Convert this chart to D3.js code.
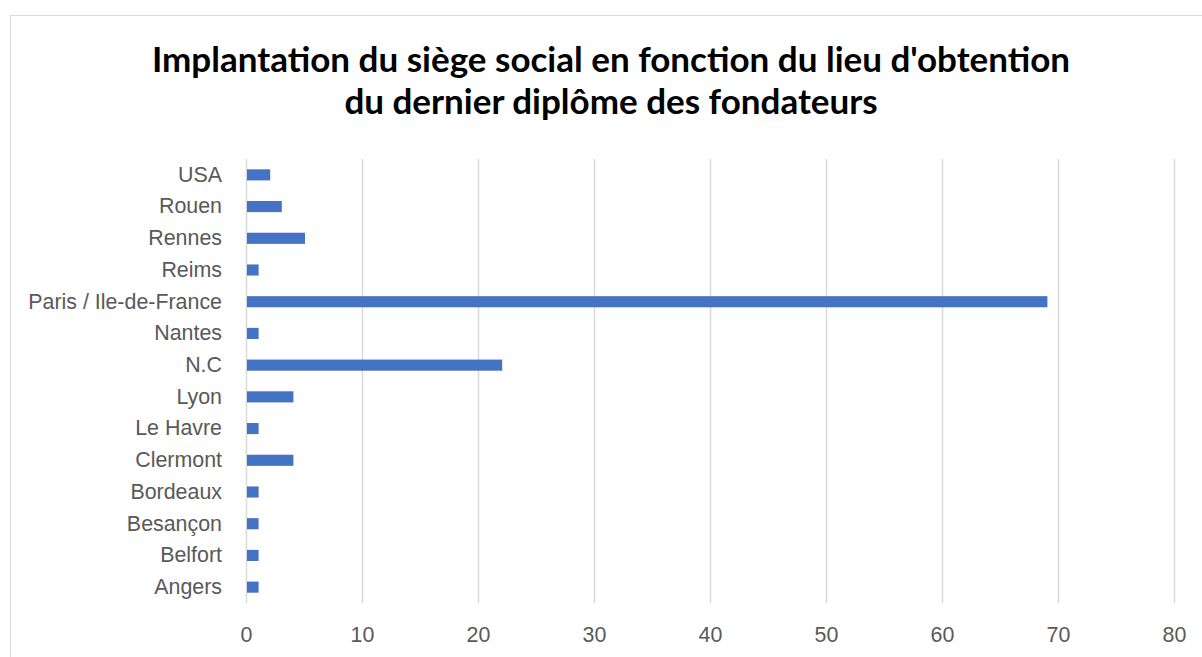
<!DOCTYPE html>
<meta charset="utf-8">
<html>
<head>
<style>
  body { margin: 0; background: #fff; }
  svg { display: block; font-family: Lato, "Open Sans", sans-serif; }
  .tick text { fill: #595959; font-size: 21.4px; }
</style>
</head>
<body>
<script src="https://cdn.jsdelivr.net/npm/d3@7"></script>
<script>
// categories, bottom to top as in the chart
var categories = ["Angers", "Belfort", "Besançon", "Bordeaux", "Clermont", "Le Havre", "Lyon",
                  "N.C", "Nantes", "Paris / Ile-de-France", "Reims", "Rennes", "Rouen", "USA"];
var values = [1, 1, 1, 1, 4, 1, 4, 22, 1, 69, 1, 5, 3, 2];
var xTicks = [0, 10, 20, 30, 40, 50, 60, 70, 80];
var titleLines = ["Implantation du siège social en fonction du lieu d'obtention",
                  "du dernier diplôme des fondateurs"];

var W = 1202, H = 657;
var margin = {top: 159, left: 246, right: 28, bottom: 54};
var width = W - margin.left - margin.right,
    height = H - margin.top - margin.bottom;

var svg = d3.select("body").append("svg")
    .attr("width", W)
    .attr("height", H);

// chart area border
svg.append("rect")
    .attr("x", 10.5).attr("y", 15.5)
    .attr("width", W + 10).attr("height", H + 10)
    .attr("fill", "none")
    .attr("stroke", "#d9d9d9");

svg.append("text")
    .attr("x", 611)
    .attr("text-anchor", "middle")
    .style("font-size", "35px")
    .style("font-weight", "bold")
    .style("fill", "#000")
    .selectAll("tspan")
    .data(titleLines)
    .enter().append("tspan")
    .attr("x", 611)
    .attr("y", function(d, i) { return 72 + i * 42; })
    .text(function(d) { return d; });

var g = svg.append("g")
    .attr("transform", "translate(" + margin.left + "," + margin.top + ")");

var x = d3.scaleLinear().domain([0, 80]).range([0, width]);
var y = d3.scaleBand()
    .domain(categories.slice().reverse())
    .range([0, height])
    .paddingInner(0.65)
    .paddingOuter(0.325);

// gridlines
g.selectAll(".grid")
    .data(xTicks)
    .enter().append("line")
    .attr("class", "grid")
    .attr("x1", function(d) { return Math.round(x(d)) + 0.5; })
    .attr("x2", function(d) { return Math.round(x(d)) + 0.5; })
    .attr("y1", 0)
    .attr("y2", height)
    .attr("stroke", "#d9d9d9")
    .attr("stroke-width", 1.5);

var xAxis = g.append("g")
    .attr("transform", "translate(0," + height + ")")
    .call(d3.axisBottom(x).tickValues(xTicks).tickSize(0).tickPadding(24));
xAxis.select(".domain").remove();

var yAxis = g.append("g")
    .call(d3.axisLeft(y).tickSize(0).tickPadding(24));
yAxis.select(".domain").remove();

g.selectAll(".bar")
    .data(categories)
    .enter().append("rect")
    .attr("class", "bar")
    .attr("x", x(0) + 1)
    .attr("y", function(d) { return y(d); })
    .attr("width", function(d, i) { return x(values[i]) - x(0); })
    .attr("height", y.bandwidth())
    .style("fill", "#4472c4");
</script>
</body>
</html>
